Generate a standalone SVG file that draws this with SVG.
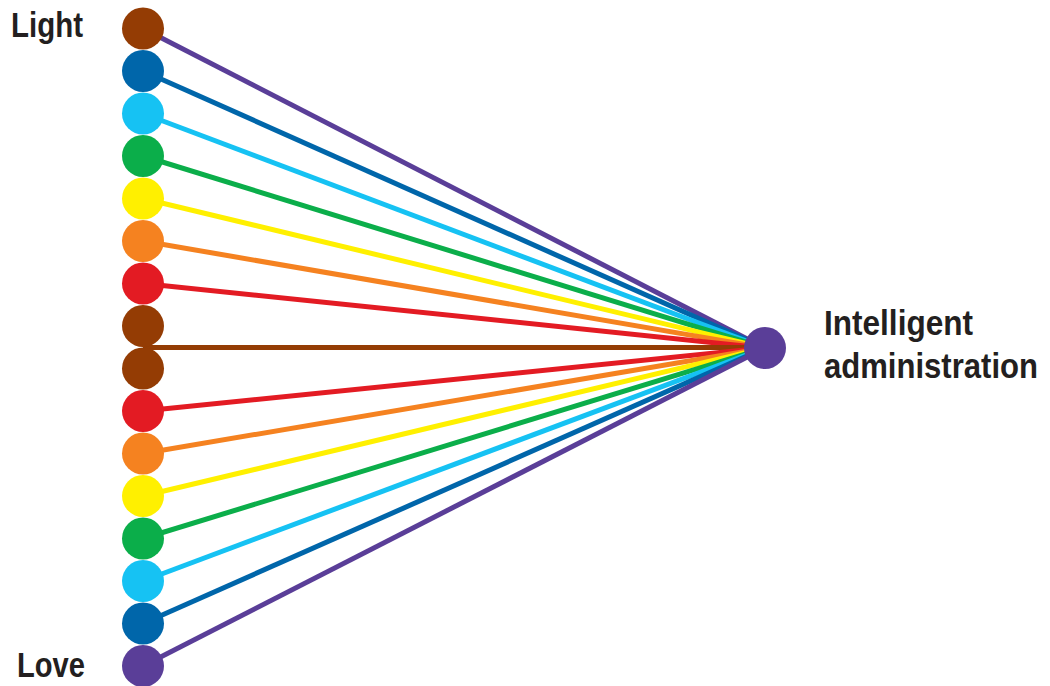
<svg xmlns="http://www.w3.org/2000/svg" width="1050" height="686" viewBox="0 0 1050 686">
<style>
.ln{stroke-width:5;fill:none}
.lbl{font-family:"Liberation Sans Narrow","Liberation Sans",Arial,sans-serif;font-weight:bold;font-size:35px;fill:#231f20}
.brown{fill:#943c04}.blue{fill:#0066aa}.lblue{fill:#16c2f3}.green{fill:#0bae4a}.yellow{fill:#fff000}.orange{fill:#f58220}.red{fill:#e31b23}.purple{fill:#5a3e98}
</style>
<rect width="1050" height="686" fill="#fff"/>
<g id="connectors" class="ln">
<line x1="143" y1="28.5" x2="765" y2="348" stroke="#5a3e98"/>
<line x1="143" y1="71" x2="765" y2="348" stroke="#0066aa"/>
<line x1="143" y1="113.5" x2="765" y2="348" stroke="#16c2f3"/>
<line x1="143" y1="156" x2="765" y2="348" stroke="#0bae4a"/>
<line x1="143" y1="198.5" x2="765" y2="348" stroke="#fff000"/>
<line x1="143" y1="241" x2="765" y2="348" stroke="#f58220"/>
<line x1="143" y1="283.5" x2="765" y2="348" stroke="#e31b23"/>
<line x1="143" y1="347.5" x2="765" y2="347.5" stroke="#943c04"/>
<line x1="143" y1="411" x2="765" y2="348" stroke="#e31b23"/>
<line x1="143" y1="453.5" x2="765" y2="348" stroke="#f58220"/>
<line x1="143" y1="496" x2="765" y2="348" stroke="#fff000"/>
<line x1="143" y1="538.5" x2="765" y2="348" stroke="#0bae4a"/>
<line x1="143" y1="581" x2="765" y2="348" stroke="#16c2f3"/>
<line x1="143" y1="623.5" x2="765" y2="348" stroke="#0066aa"/>
<line x1="143" y1="666" x2="765" y2="348" stroke="#5a3e98"/>
</g>
<g id="n1"><circle class="brown" cx="143" cy="28.5" r="21"/></g>
<g id="n2"><circle class="blue" cx="143" cy="71" r="21"/></g>
<g id="n3"><circle class="lblue" cx="143" cy="113.5" r="21"/></g>
<g id="n4"><circle class="green" cx="143" cy="156" r="21"/></g>
<g id="n5"><circle class="yellow" cx="143" cy="198.5" r="21"/></g>
<g id="n6"><circle class="orange" cx="143" cy="241" r="21"/></g>
<g id="n7"><circle class="red" cx="143" cy="283.5" r="21"/></g>
<g id="n8"><circle class="brown" cx="143" cy="326" r="21"/></g>
<g id="n9"><circle class="brown" cx="143" cy="368.5" r="21"/></g>
<g id="n10"><circle class="red" cx="143" cy="411" r="21"/></g>
<g id="n11"><circle class="orange" cx="143" cy="453.5" r="21"/></g>
<g id="n12"><circle class="yellow" cx="143" cy="496" r="21"/></g>
<g id="n13"><circle class="green" cx="143" cy="538.5" r="21"/></g>
<g id="n14"><circle class="lblue" cx="143" cy="581" r="21"/></g>
<g id="n15"><circle class="blue" cx="143" cy="623.5" r="21"/></g>
<g id="n16"><circle class="purple" cx="143" cy="666" r="21"/></g>
<g id="target"><circle class="purple" cx="765" cy="348" r="21"/></g>
<g id="labels">
<text class="lbl" x="11" y="37" textLength="72" lengthAdjust="spacingAndGlyphs">Light</text>
<text class="lbl" x="17" y="677" textLength="68" lengthAdjust="spacingAndGlyphs">Love</text>
<text class="lbl" x="824" y="335" textLength="149" lengthAdjust="spacingAndGlyphs">Intelligent</text>
<text class="lbl" x="824" y="378" textLength="214" lengthAdjust="spacingAndGlyphs">administration</text>
</g>
</svg>
